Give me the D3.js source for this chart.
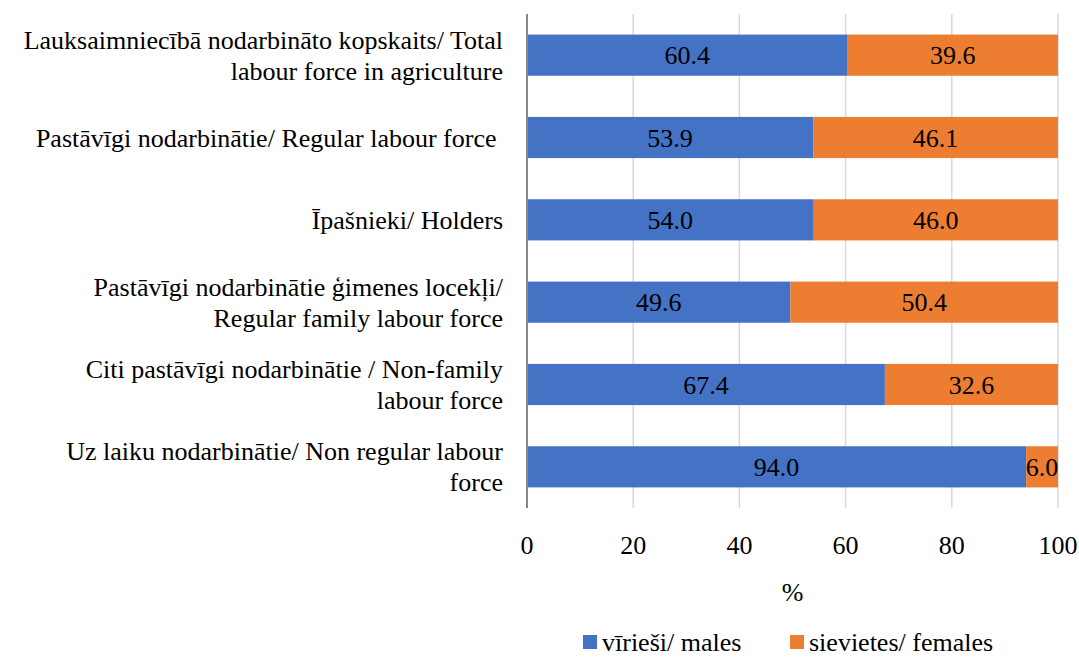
<!DOCTYPE html>
<html>
<head>
<meta charset="utf-8">
<script src="https://cdn.jsdelivr.net/npm/d3@7"></script>
<style>
    body { margin: 0; background: #fff; }
</style>
</head>
<body>
<div id="chart"></div>
<script>
// categories (each entry is the lines of the label)
const categories = [
    ["Lauksaimniecībā nodarbināto kopskaits/ Total", "labour force in agriculture"],
    ["Pastāvīgi nodarbinātie/ Regular labour force\u00a0"],
    ["Īpašnieki/ Holders"],
    ["Pastāvīgi nodarbinātie ģimenes locekļi/", "Regular family labour force"],
    ["Citi pastāvīgi nodarbinātie / Non-family", "labour force"],
    ["Uz laiku nodarbinātie/ Non regular labour", "force"],
];
const males = [60.4, 53.9, 54.0, 49.6, 67.4, 94.0];
const females = [39.6, 46.1, 46.0, 50.4, 32.6, 6.0];
const seriesNames = ["vīrieši/ males", "sievietes/ females"];
const seriesColors = ["#4472C4", "#ED7D31"];
const xTicks = [0, 20, 40, 60, 80, 100];

const width = 1079, height = 657;
const margin = { top: 14, right: 21, bottom: 149, left: 527 };
const fontFamily = "'Liberation Serif', serif";
const fontSize = "26px";

const svg = d3.select("#chart")
    .append("svg")
    .attr("width", width)
    .attr("height", height);

const x = d3.scaleLinear()
    .domain([0, 100])
    .range([margin.left, width - margin.right]);

const y = d3.scaleBand()
    .domain(d3.range(categories.length))
    .range([margin.top, height - margin.bottom])
    .paddingInner(0.5)
    .paddingOuter(0.25);

// gridlines
svg.append("g")
    .selectAll("line")
    .data(xTicks.slice(1))
    .enter()
    .append("line")
    .attr("x1", d => x(d))
    .attr("x2", d => x(d))
    .attr("y1", margin.top)
    .attr("y2", height - margin.bottom)
    .attr("stroke", "#d9d9d9")
    .attr("stroke-width", 1.5);

// stacked bars
const stackData = males.map((m, i) => ({ i: i, males: m, females: females[i] }));
const stack = d3.stack().keys(["males", "females"])(stackData);

const layer = svg.append("g")
    .selectAll("g")
    .data(stack)
    .enter()
    .append("g");

layer.selectAll("rect")
    .data(d => d)
    .enter()
    .append("rect")
    .attr("x", d => x(d[0]))
    .attr("width", d => x(d[1]) - x(d[0]))
    .attr("y", d => y(d.data.i))
    .attr("height", y.bandwidth())
    .attr("fill", function () { return seriesColors[d3.select(this.parentNode).datum().index]; });

layer.selectAll("text")
    .data(d => d)
    .enter()
    .append("text")
    .attr("x", d => (x(d[0]) + x(d[1])) / 2)
    .attr("y", d => y(d.data.i) + y.bandwidth() / 2)
    .attr("dy", "0.35em")
    .attr("text-anchor", "middle")
    .attr("fill", "#000")
    .style("font-family", fontFamily)
    .style("font-size", fontSize)
    .text(d => (d[1] - d[0]).toFixed(1));

// left axis line
svg.append("line")
    .attr("x1", x(0))
    .attr("x2", x(0))
    .attr("y1", margin.top)
    .attr("y2", height - margin.bottom)
    .attr("stroke", "#868686")
    .attr("stroke-width", 2);

// category labels
const lineHeight = 31;
svg.append("g")
    .selectAll("text")
    .data(categories)
    .enter()
    .append("text")
    .attr("text-anchor", "end")
    .attr("fill", "#000")
    .style("font-family", fontFamily)
    .style("font-size", fontSize)
    .each(function (lines, i) {
        const cy = y(i) + y.bandwidth() / 2;
        const start = cy - (lines.length - 1) * lineHeight / 2;
        d3.select(this)
            .selectAll("tspan")
            .data(lines)
            .enter()
            .append("tspan")
            .attr("x", 503)
            .attr("y", (l, j) => start + j * lineHeight)
            .attr("dy", "0.35em")
            .text(l => l);
    });

// x tick labels
svg.append("g")
    .selectAll("text")
    .data(xTicks)
    .enter()
    .append("text")
    .attr("x", d => x(d))
    .attr("y", 545)
    .attr("dy", "0.35em")
    .attr("text-anchor", "middle")
    .style("font-family", fontFamily)
    .style("font-size", fontSize)
    .text(d => d);

// x axis title
svg.append("text")
    .attr("x", (x(0) + x(100)) / 2)
    .attr("y", 592)
    .attr("dy", "0.35em")
    .attr("text-anchor", "middle")
    .style("font-family", fontFamily)
    .style("font-size", fontSize)
    .text("%");

// legend
const legendX = [583, 790];
const legend = svg.append("g")
    .selectAll("g")
    .data(seriesNames)
    .enter()
    .append("g")
    .attr("transform", (d, k) => `translate(${legendX[k]},642)`);

legend.append("rect")
    .attr("x", 0)
    .attr("y", -7)
    .attr("width", 14)
    .attr("height", 14)
    .attr("fill", (d, k) => seriesColors[k]);

legend.append("text")
    .attr("x", 19)
    .attr("y", 0)
    .attr("dy", "0.35em")
    .style("font-family", fontFamily)
    .style("font-size", fontSize)
    .text(d => d);
</script>
</body>
</html>
